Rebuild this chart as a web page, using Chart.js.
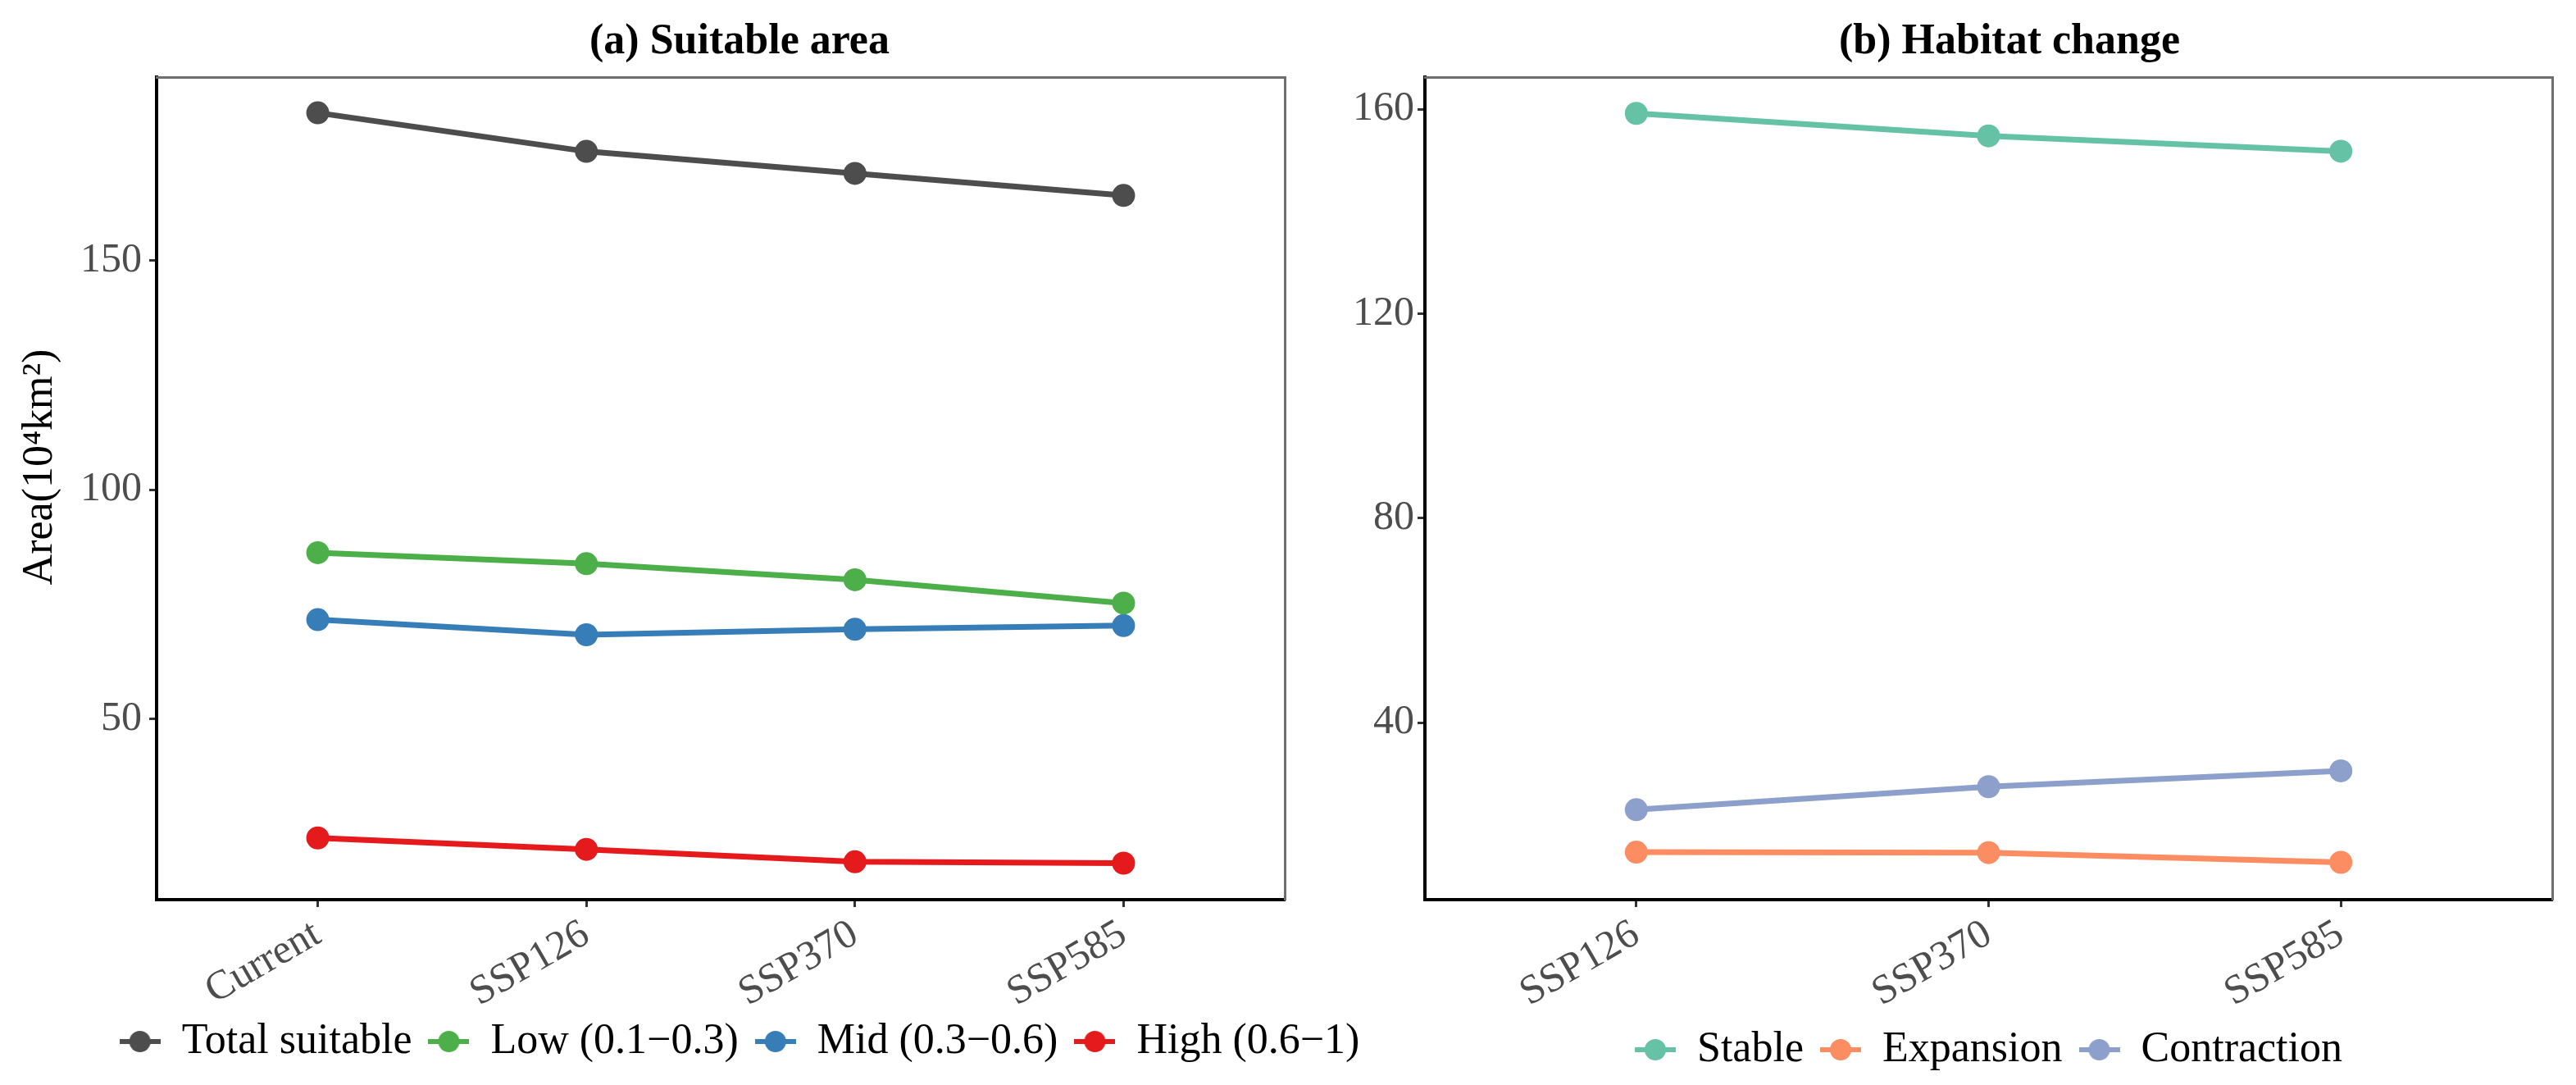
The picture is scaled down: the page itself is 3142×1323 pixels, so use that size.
<!DOCTYPE html>
<html>
<head>
<meta charset="utf-8">
<script src="https://cdn.jsdelivr.net/npm/chart.js@4.4.1/dist/chart.umd.min.js"></script>
<style>
    html, body { margin: 0; padding: 0; background: #fff; overflow: hidden; width: 3142px; height: 1323px; }
    canvas { position: absolute; top: 0; }
    #suitableChart { left: 0; }
    #changeChart { left: 1640px; }
</style>
</head>
<body>
<canvas id="suitableChart" width="1804" height="1323"></canvas>
<canvas id="changeChart" width="1622" height="1323"></canvas>
<script>
// (a) suitable area, 10^4 km2
const scenariosA = ['Current', 'SSP126', 'SSP370', 'SSP585'];
const totalArea = [182.2, 173.8, 169.0, 164.2];
const lowArea = [86.3, 83.9, 80.4, 75.3];
const midArea = [71.7, 68.4, 69.6, 70.4];
const highArea = [24.1, 21.6, 18.9, 18.6];
const yTicksA = [50, 100, 150];

// (b) habitat change
const scenariosB = ['SSP126', 'SSP370', 'SSP585'];
const stableArea = [159.2, 154.8, 151.8];
const expansionArea = [14.7, 14.6, 12.7];
const contractionArea = [23.0, 27.5, 30.6];
const yTicksB = [40, 80, 120, 160];

Chart.defaults.font.family = "'Liberation Serif', 'Times New Roman', serif";
Chart.defaults.color = '#4D4D4D';

// legend key: short line with a dot, like ggplot's point+line key
function keyIcon(color) {
    const c = document.createElement('canvas');
    c.width = 50; c.height = 30;
    const g = c.getContext('2d');
    g.strokeStyle = color; g.lineWidth = 6;
    g.beginPath(); g.moveTo(0, 15); g.lineTo(50, 15); g.stroke();
    g.fillStyle = color;
    g.beginPath(); g.arc(25, 15, 13, 0, Math.PI * 2); g.fill();
    return c;
}

function series(label, values, color) {
    return {
        label,
        data: values.map((v, i) => ({ x: i, y: v })),
        borderColor: color, backgroundColor: color,
        pointBackgroundColor: color, pointBorderWidth: 0,
        pointRadius: 14, borderWidth: 7, tension: 0
    };
}

const tickGrid = { display: true, drawOnChartArea: false, tickLength: 9, tickWidth: 3, tickColor: '#333', color: '#333' };

function buildChart(id, cfg) {
    return new Chart(document.getElementById(id), {
        type: 'line',
        data: { datasets: cfg.datasets },
        options: {
            responsive: false, animation: false, devicePixelRatio: 1,
            layout: { padding: { bottom: cfg.padBottom }, autoPadding: false },
            plugins: {
                title: { display: true, text: cfg.title, color: '#000', font: { size: 52, weight: 'bold' }, padding: { top: 20, bottom: 11.6 } },
                legend: {
                    position: 'bottom', fullSize: cfg.legendFull,
                    labels: {
                        usePointStyle: true, pointStyleWidth: 50, padding: 20, color: '#000', font: { size: 52 },
                        generateLabels: chart => chart.data.datasets.map((ds, i) => ({
                            text: ds.label, pointStyle: keyIcon(ds.borderColor),
                            fillStyle: ds.borderColor, strokeStyle: ds.borderColor, lineWidth: 0,
                            fontColor: '#000', hidden: false, datasetIndex: i
                        }))
                    }
                },
                tooltip: { enabled: false }
            },
            scales: {
                x: {
                    type: 'linear', min: -0.6, max: cfg.cats.length - 1 + 0.6,
                    afterBuildTicks: s => { s.ticks = cfg.cats.map((_, i) => ({ value: i })); },
                    afterFit: s => { s.height = cfg.xHeight; },
                    grid: tickGrid,
                    border: { display: true, color: '#000', width: 4 },
                    ticks: { minRotation: 30, maxRotation: 30, autoSkip: false, padding: 4, color: '#4D4D4D', font: { size: 50 }, callback: v => cfg.cats[v] }
                },
                y: {
                    position: 'left', min: cfg.yMin, max: cfg.yMax,
                    afterBuildTicks: s => { s.ticks = cfg.yTicks.map(v => ({ value: v })); },
                    afterFit: s => { s.width = cfg.yWidth; },
                    grid: tickGrid,
                    border: { display: true, color: '#000', width: 4 },
                    ticks: { padding: cfg.yPad, color: '#4D4D4D', font: { size: 50 } },
                    title: cfg.yTitle
                        ? { display: true, text: cfg.yTitle, color: '#000', font: { size: 52 }, padding: { top: 18, bottom: 0 } }
                        : { display: false }
                },
                // panel frame (top and right sides)
                x2: {
                    type: 'linear', position: 'top', display: true,
                    afterFit: s => { s.height = 0; },
                    grid: { display: false }, ticks: { display: false },
                    border: { display: true, color: '#6E6E6E', width: 3 }
                },
                y2: {
                    type: 'linear', position: 'right', display: true,
                    afterFit: s => { s.width = cfg.rightWidth; },
                    grid: { display: false }, ticks: { display: false },
                    border: { display: true, color: '#6E6E6E', width: 3 }
                }
            }
        }
    });
}

buildChart('suitableChart', {
    title: '(a) Suitable area',
    cats: scenariosA,
    datasets: [
        series('Total suitable', totalArea, '#4D4D4D'),
        series('Low (0.1\u22120.3)', lowArea, '#4DAF4A'),
        series('Mid (0.3\u22120.6)', midArea, '#377EB8'),
        series('High (0.6\u22121)', highArea, '#E41A1C')
    ],
    yTicks: yTicksA, yMin: 10.64, yMax: 190.0,
    // leading spaces nudge the label up a little, as in the original
    yTitle: '    Area(10\u2074km\u00B2)',
    yWidth: 191, yPad: 9, rightWidth: 237,
    xHeight: 127, padBottom: 17, legendFull: true
});

buildChart('changeChart', {
    title: '(b) Habitat change',
    cats: scenariosB,
    datasets: [
        series('Stable', stableArea, '#66C2A5'),
        series('Expansion', expansionArea, '#FC8D62'),
        series('Contraction', contractionArea, '#8DA0CB')
    ],
    yTicks: yTicksB, yMin: 5.4, yMax: 166.3,
    yTitle: null,
    yWidth: 98, yPad: 4, rightWidth: 149,
    xHeight: 137, padBottom: 7, legendFull: false
});
</script>
</body>
</html>
